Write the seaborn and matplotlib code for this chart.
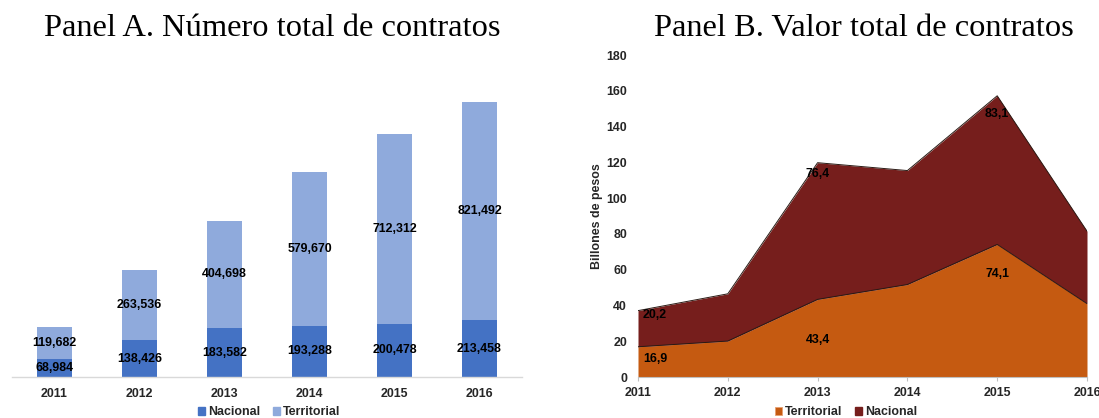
import numpy as np
import pandas as pd
import matplotlib
matplotlib.use("Agg")
import matplotlib.pyplot as plt
from matplotlib.patches import Patch
import seaborn as sns

# ---- data ----
years = ["2011", "2012", "2013", "2014", "2015", "2016"]
contratos_nacional = [68984, 138426, 183582, 193288, 200478, 213458]
contratos_territorial = [119682, 263536, 404698, 579670, 712312, 821492]

valor_territorial = [16.9, 20.1, 43.4, 51.7, 74.1, 41.0]
valor_nacional = [20.2, 26.4, 76.4, 63.7, 83.1, 40.5]
# labelled years in panel B with the label's vertical position
valor_labels_terr = [(0, 10.2), (2, 20.5), (4, 57.7)]
valor_labels_nac = [(0, 34.4), (2, 113.5), (4, 147.0)]

c_nac_a = "#4472C4"
c_terr_a = "#8FAADC"
c_terr_b = "#C55A11"
c_nac_b = "#761E1C"

sns.set_theme(style="white")
plt.rcParams["font.family"] = ["Liberation Sans", "DejaVu Sans"]

W, H = 1099, 418
fig = plt.figure(figsize=(W / 100, H / 100), dpi=100)


def box(x0, y0, x1, y1):
    return [x0 / W, 1 - y1 / H, (x1 - x0) / W, (y1 - y0) / H]


FS = 8.9
SERIF = ["Liberation Serif", "DejaVu Serif"]

# ---- Panel A: stacked bars ----
axA = fig.add_axes(box(12, 50, 522, 377))
df = pd.DataFrame({
    "year": years,
    "Nacional": contratos_nacional,
    "Territorial": contratos_territorial,
})
df["total"] = df["Nacional"] + df["Territorial"]

sns.barplot(data=df, x="year", y="total", color=c_terr_a, width=0.41,
            saturation=1, ax=axA)
sns.barplot(data=df, x="year", y="Nacional", color=c_nac_a, width=0.41,
            saturation=1, ax=axA)
for p in axA.patches:
    p.set_linewidth(0)

for i, (n, t) in enumerate(zip(contratos_nacional, contratos_territorial)):
    axA.text(i, n / 2, f"{n:,}", ha="center", va="center",
             fontsize=FS, fontweight="bold", color="black")
    axA.text(i, n + t / 2, f"{t:,}", ha="center", va="center",
             fontsize=FS, fontweight="bold", color="black")

ymaxA = df["total"].max() * 327 / 275
axA.set_ylim(0, ymaxA)
axA.set_xlim(-0.5, 5.5)
axA.set_xlabel("")
axA.set_ylabel("")
axA.set_yticks([])
for s in ["left", "right", "top"]:
    axA.spines[s].set_visible(False)
axA.spines["bottom"].set_color("#d9d9d9")
axA.spines["bottom"].set_linewidth(1.0)
axA.tick_params(axis="x", length=0, pad=8)
for lab in axA.get_xticklabels():
    lab.set_fontweight("bold")
    lab.set_fontsize(FS)

axA.legend(
    handles=[Patch(color=c_nac_a, label="Nacional"),
             Patch(color=c_terr_a, label="Territorial")],
    loc="center", bbox_to_anchor=((269 - 12) / (522 - 12), -35 / 327),
    ncol=2, frameon=False,
    handlelength=0.6, handleheight=0.6, handletextpad=0.25,
    columnspacing=1.0, prop={"weight": "bold", "size": FS})

fig.text(272 / W, 1 - 36 / H, "Panel A. Número total de contratos",
         ha="center", va="baseline", fontsize=23.4, family=SERIF,
         color="black")

# ---- Panel B: stacked area ----
bx0, bx1 = 638, 1087
axB = fig.add_axes(box(bx0, 55, bx1, 377))
x = np.arange(len(years))
terr = np.array(valor_territorial)
total = terr + np.array(valor_nacional)

axB.fill_between(x, 0, terr, color=c_terr_b, linewidth=0)
axB.fill_between(x, terr, total, color=c_nac_b, linewidth=0)
sns.lineplot(x=x, y=terr, color="#2a1a14", linewidth=0.7, ax=axB)
sns.lineplot(x=x, y=total, color="#2a1a14", linewidth=0.7, ax=axB)


def value_label(i, yy, v):
    txt = f"{v:.1f}".replace(".", ",")
    if i == 0:
        axB.text(0.055, yy, txt, ha="left", va="center", fontsize=FS,
                 fontweight="bold", color="black")
    else:
        axB.text(i, yy, txt, ha="center", va="center", fontsize=FS,
                 fontweight="bold", color="black")


for i, yy in valor_labels_terr:
    value_label(i, yy, valor_territorial[i])
for i, yy in valor_labels_nac:
    value_label(i, yy, valor_nacional[i])

axB.set_xlim(0, 5)
axB.set_ylim(0, 180)
axB.set_yticks(np.arange(0, 181, 20))
axB.set_xticks(x)
axB.set_xticklabels(years)
for s in ["left", "right", "top"]:
    axB.spines[s].set_visible(False)
axB.spines["bottom"].set_color("#bfbfbf")
axB.spines["bottom"].set_linewidth(0.8)
axB.tick_params(axis="x", length=3, width=0.8, color="#bfbfbf", pad=4,
                bottom=True)
axB.tick_params(axis="y", length=0, pad=8)
for lab in axB.get_xticklabels() + axB.get_yticklabels():
    lab.set_fontweight("bold")
    lab.set_fontsize(FS)
axB.set_ylabel("Billones de pesos", fontsize=FS, fontweight="bold",
               labelpad=2)

axB.legend(
    handles=[Patch(facecolor=c_terr_b, edgecolor="#e8a070", linewidth=0.6,
                   label="Territorial"),
             Patch(color=c_nac_b, label="Nacional")],
    loc="center", bbox_to_anchor=((846 - bx0) / (bx1 - bx0), -35 / 322),
    ncol=2, frameon=False,
    handlelength=0.6, handleheight=0.6, handletextpad=0.25,
    columnspacing=1.0, prop={"weight": "bold", "size": FS})

fig.text(864 / W, 1 - 36 / H, "Panel B. Valor total de contratos",
         ha="center", va="baseline", fontsize=23.4, family=SERIF,
         color="black")

fig.savefig("out.png", dpi=100, facecolor="white")
